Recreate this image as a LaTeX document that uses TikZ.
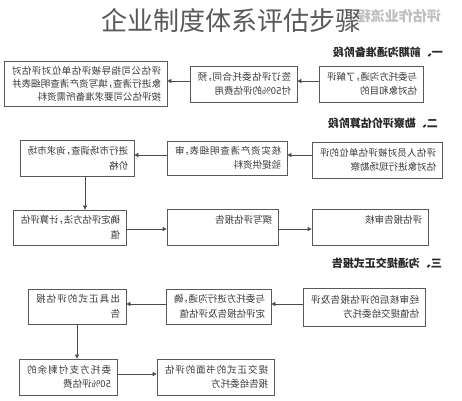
\documentclass[tikz,border=0pt]{standalone}
\usepackage{fontspec}
\usepackage{graphicx}
\setmainfont{Noto Sans CJK SC}
\usetikzlibrary{arrows.meta}
\XeTeXlinebreaklocale "zh"
\XeTeXlinebreakskip=0pt plus 10pt minus 0.5pt
\newcommand{\cm}{\makebox[0.55em][l]{，}}
\newcommand{\mtxt}[2]{\hspace*{2pt}\reflectbox{\parbox{#1}{#2}}}
\tikzset{
  box/.style={draw=black!65, line width=0.7pt, inner xsep=6pt, inner ysep=0pt,
    font=\fontsize{9.5}{14.5}\selectfont, text=black!78, anchor=center},
  hdr/.style={font=\fontsize{11}{13}\selectfont\bfseries, inner sep=0pt, anchor=east, text=black!85},
  arr/.style={draw=black!70, line width=0.7pt, -{Triangle[length=4pt,width=4pt]}}
}
\begin{document}
\begin{tikzpicture}[x=1pt,y=-1pt]
\useasboundingbox (0,0) rectangle (462,400);
\fill[white] (0,0) rectangle (462,400);
% watermark and title
\node[font=\fontsize{14}{16}\selectfont\bfseries, text=black!25, anchor=east, inner sep=0pt] (wm) at (441,16) {\reflectbox{评估作业流程}};
\node[font=\fontsize{26}{30}\selectfont, text=black!65, inner sep=0pt] (title) at (231,20) {企业制度体系评估步骤};
% headers
\node[hdr] (h1) at (443,52) {\reflectbox{一、前期沟通准备阶段}};
\node[hdr] (h2) at (438,123) {\reflectbox{二、勘察评价估算阶段}};
\node[hdr] (h3) at (442,263) {\reflectbox{三、沟通提交正式报告}};
% row coordinates
\coordinate (r1) at (0,81);
\coordinate (r2) at (0,155);
\coordinate (r3) at (0,229);
\coordinate (r4) at (0,304);
\coordinate (r5) at (0,374);
\coordinate (c1) at (85,0);
\coordinate (c2) at (77,0);
% stage 1
\node[box, minimum width=104pt, minimum height=36pt] (A) at (371,84) {\mtxt{90pt}{与委托方沟通\cm 了解评\linebreak 估对象和目的}};
\node[box, minimum width=107pt, minimum height=36pt] (B) at (243.5,84) {\mtxt{93pt}{签订评估委托合同\cm 预\linebreak 付50\%的评估费用}};
\node[box, minimum width=163pt, minimum height=45pt, font=\fontsize{9.5}{13}\selectfont] (C) at (85.5,83.5) {\mtxt{149pt}{评估公司指导被评估单位对评估对\linebreak 象进行清查\cm 填写资产清查明细表并\linebreak 按评估公司要求准备所需资料}};
% stage 2
\node[box, minimum width=130pt, minimum height=36pt] (D) at (377,160) {\mtxt{116pt}{评估人员对被评估单位的评\linebreak 估对象进行现场勘察}};
\node[box, minimum width=120pt, minimum height=34pt] (E) at (227,158) {\mtxt{106pt}{核实资产清查明细表\cm 审\linebreak 验提供资料}};
\node[box, minimum width=114pt, minimum height=36pt] (F) at (77,158.5) {\mtxt{100pt}{进行市场调查\cm 询求市场\linebreak 价格}};
\node[box, minimum width=113pt, minimum height=35pt] (G) at (69.5,227.5) {\mtxt{99pt}{确定评估方法\cm 计算评估\linebreak 值}};
\node[box, minimum width=111pt, minimum height=36pt] (H) at (222.5,227) {\mtxt{97pt}{撰写评估报告\\\mbox{}}};
\node[box, minimum width=116pt, minimum height=36pt] (I) at (370,227) {\mtxt{102pt}{评估报告审核\\\mbox{}}};
% stage 3
\node[box, minimum width=122pt, minimum height=38pt] (J) at (364,307) {\mtxt{108pt}{经审核后的评估报告及评\linebreak 估值提交给委托方}};
\node[box, minimum width=105pt, minimum height=35pt] (K) at (218.5,306.5) {\mtxt{91pt}{与委托方进行沟通\cm 确\linebreak 定评估报告及评估值}};
\node[box, minimum width=98pt, minimum height=35pt] (L) at (77,306.5) {\mtxt{84pt}{出具正式的评估报\linebreak 告}};
\node[box, minimum width=98pt, minimum height=36pt] (M) at (68,377) {\mtxt{84pt}{委托方支付剩余的\linebreak 50\%评估费}};
\node[box, minimum width=117pt, minimum height=36pt] (N) at (215.5,377) {\mtxt{103pt}{提交正式的书面的评估\linebreak 报告给委托方}};
% connectors
\draw[arr] (A.west |- r1) -- (B.east |- r1);
\draw[arr] (B.west |- r1) -- (C.east |- r1);
\draw[arr] (D.west |- r2) -- (E.east |- r2);
\draw[arr] (E.west |- r2) -- (F.east |- r2);
\draw[arr] (F.south -| c1) -- (G.north -| c1);
\draw[arr] (G.east |- r3) -- (H.west |- r3);
\draw[arr] (H.east |- r3) -- (I.west |- r3);
\draw[arr] (J.west |- r4) -- (K.east |- r4);
\draw[arr] (K.west |- r4) -- (L.east |- r4);
\draw[arr] (L.south -| c2) -- (M.north -| c2);
\draw[arr] (M.east |- r5) -- (N.west |- r5);
\end{tikzpicture}
\end{document}
